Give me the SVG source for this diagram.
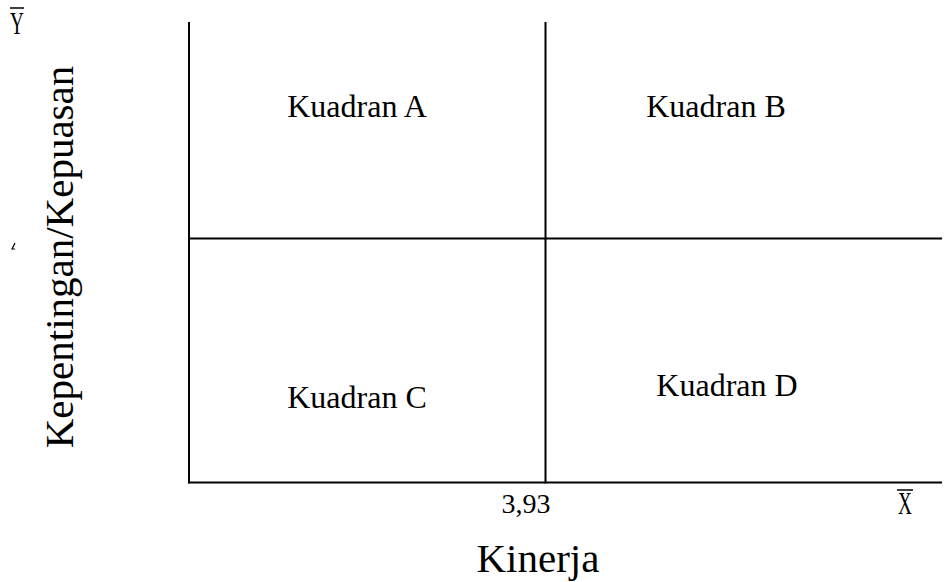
<svg xmlns="http://www.w3.org/2000/svg" width="946" height="582" viewBox="0 0 946 582">
<style>
text{font-family:'Liberation Serif','Times New Roman','DejaVu Serif',serif;fill:#000}
.q{font-size:32px;text-anchor:middle}
.ax{stroke:#000;stroke-width:2;fill:none}
</style>
<rect width="946" height="582" fill="#fff"/>
<g id="connectors">
<line class="ax" x1="189" y1="22" x2="189" y2="483.5"/>
<line class="ax" x1="545.5" y1="22" x2="545.5" y2="483.5"/>
<line class="ax" x1="188" y1="238.5" x2="942" y2="238.5"/>
<line class="ax" x1="188" y1="482.5" x2="942" y2="482.5"/>
</g>
<g id="kuadranA"><text class="q" x="357" y="117">Kuadran A</text></g>
<g id="kuadranB"><text class="q" x="716" y="117">Kuadran B</text></g>
<g id="kuadranC"><text class="q" x="357" y="408">Kuadran C</text></g>
<g id="kuadranD"><text class="q" x="727" y="396">Kuadran D</text></g>
<g id="ybar"><line x1="10" y1="8" x2="24" y2="8" stroke="#000" stroke-width="1.5"/><text transform="translate(17,34) scale(0.62,1)" font-size="31" text-anchor="middle">Y</text></g>
<g id="xbar"><line x1="897" y1="490" x2="913" y2="490" stroke="#000" stroke-width="1.5"/><text transform="translate(905,514) scale(0.62,1)" font-size="31" text-anchor="middle">X</text></g>
<g id="val"><text x="526" y="513" font-size="28" text-anchor="middle">3,93</text></g>
<g id="xlabel"><text x="538" y="572" font-size="41" text-anchor="middle">Kinerja</text></g>
<g id="ylabel"><text transform="translate(73,257) rotate(-90)" font-size="41" text-anchor="middle">Kepentingan/Kepuasan</text></g>
<path d="M15,243 L12,249 L15,249" stroke="#000" stroke-width="1.2" fill="none"/>
</svg>
